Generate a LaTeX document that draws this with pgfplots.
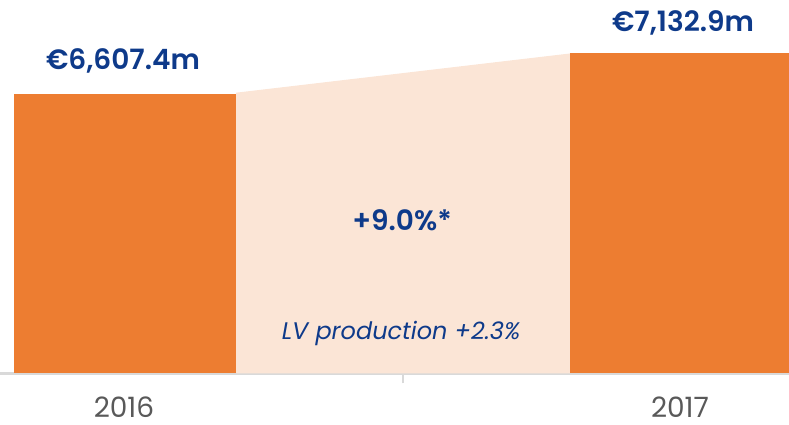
\documentclass[border=0pt]{standalone}
\usepackage{fontspec}
\setmainfont{Poppins}[BoldFont={Poppins SemiBold}, BoldItalicFont={Poppins SemiBold Italic}]
\usepackage{pgfplots}
\pgfplotsset{compat=1.18}
\definecolor{barorange}{HTML}{ED7D31}
\definecolor{peach}{HTML}{FBE5D6}
\definecolor{darkblue}{HTML}{0E3A8A}
\definecolor{yeargray}{HTML}{595959}
\definecolor{axgray}{HTML}{D9D9D9}
\begin{document}
\begin{tikzpicture}[x=0.5bp,y=0.5bp]
\useasboundingbox (0,0) rectangle (789,425);
\begin{axis}[
  at={(0,66)}, anchor=south west,
  scale only axis, width=394.5bp, height=186.5bp,
  xmin=0, xmax=789, ymin=3031, ymax=7812,
  axis x line=bottom, axis y line=none,
  axis line style={axgray, line width=1.2bp, -},
  xtick={403}, xticklabels={},
  major tick length=5bp, tick style={axgray, line width=1bp},
  tick align=outside,
  clip=true,
]
% transition area
\addplot[fill=peach, draw=none] coordinates {(236,3031) (236,6630) (570,7132.9) (570,3031)} -- cycle;
% bars
\addplot[ybar, bar width=222, fill=barorange, draw=none] coordinates {(125,6607.4)};
\addplot[ybar, bar width=222, fill=barorange, draw=none] coordinates {(681,7132.9)};
% labels
\node[font=\fontsize{14bp}{17bp}\selectfont\bfseries, text=darkblue] at (axis cs:123,7040) {€6,607.4m};
\node[font=\fontsize{14bp}{17bp}\selectfont\bfseries, text=darkblue] at (axis cs:683,7520) {€7,132.9m};
\node[font=\fontsize{14bp}{17bp}\selectfont\bfseries, text=darkblue] at (axis cs:402,4990) {+9.0\%*};
\node[font=\fontsize{12bp}{15bp}\selectfont\itshape, text=darkblue] at (axis cs:401,3546) {LV production +2.3\%};
\end{axis}
\node[font=\fontsize{14bp}{17bp}\selectfont, text=yeargray, inner sep=0pt] at (124,18) {2016};
\node[font=\fontsize{14bp}{17bp}\selectfont, text=yeargray, inner sep=0pt] at (680,18) {2017};
\end{tikzpicture}
\end{document}
